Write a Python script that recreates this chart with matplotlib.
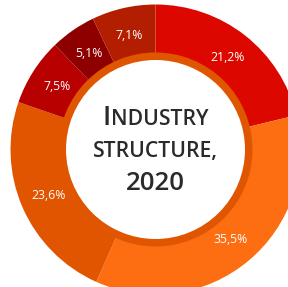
import matplotlib
matplotlib.use("Agg")
import matplotlib.pyplot as plt
from matplotlib.patches import Circle

# data
shares = [21.2, 35.5, 23.6, 7.5, 5.1, 7.1]
labels = ["21,2%", "35,5%", "23,6%", "7,5%", "5,1%", "7,1%"]
colors = ["#dc0800", "#fd6d12", "#e15500", "#b80000", "#8e0000", "#b31e00"]

W, H = 288, 287
fig = plt.figure(figsize=(W / 100, H / 100), dpi=100)
ax = fig.add_axes([0, 0, 1, 1])
ax.set_aspect("equal")
ax.axis("off")

cx, cy = 155.5, H - 149.5
R = 145

wedges, texts = ax.pie(shares, colors=colors, startangle=90, counterclock=False,
                       radius=R, center=(cx, cy), labels=labels, labeldistance=117 / R,
                       wedgeprops=dict(width=R - 96, linewidth=0),
                       textprops=dict(color="white", fontsize=8.8, family="Open Sans",
                                      ha="center", va="center"))
ax.set_xlim(0, W)
ax.set_ylim(0, H)

ax.add_patch(Circle((cx, cy), 97, color="#e05600", lw=0))
ax.add_patch(Circle((cx, cy), 89.5, color="white", lw=0))

# centre title with small caps
fig.canvas.draw()
r = fig.canvas.get_renderer()
font = dict(family="Open Sans", weight="semibold", color="#2a2a2a", va="baseline")

def small_caps(parts, y):
	# parts: list of (text, size)
	objs = [ax.text(0, y, t, fontsize=s, **font) for t, s in parts]
	widths = [o.get_window_extent(r).width for o in objs]
	x = cx - sum(widths) / 2
	for o, w in zip(objs, widths):
		o.set_x(x)
		x += w

small_caps([("I", 19.5), ("NDUSTRY", 15.2)], H - 125)
small_caps([("STRUCTURE,", 15.2)], H - 157)
small_caps([("2020", 18.5)], H - 190)

fig.savefig("out.png", dpi=100)
